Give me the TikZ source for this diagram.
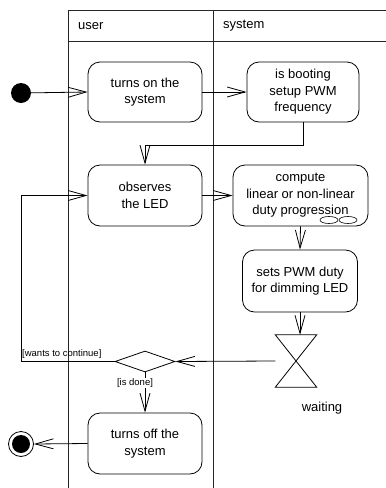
\documentclass[tikz,border=0pt]{standalone}
\usepackage{fontspec}
\setmainfont{Liberation Sans}
\usetikzlibrary{arrows.meta,shapes.geometric}
\tikzset{
  act/.style={draw, rounded corners=12pt, line width=0.8pt, align=center, inner sep=0pt,
    font=\fontsize{13}{16.5}\selectfont},
  arr/.style={-{Straight Barb[length=18pt,width=10pt]}, line width=0.8pt},
  lane/.style={line width=0.8pt, black!85},
  guard/.style={font=\fontsize{9.5}{11}\selectfont, inner sep=1pt},
  lbl/.style={font=\fontsize{13}{16}\selectfont, inner sep=0pt}
}
\begin{document}
\begin{tikzpicture}[x=1pt,y=-1pt]
\useasboundingbox (0,0) rectangle (386,488);
% swimlanes
\draw[lane] (68,488) -- (68,10) -- (386,10);
\draw[lane] (68,41) -- (386,41);
\draw[lane] (213,10) -- (213,488);
\node[lbl, anchor=west] (huser) at (78,26) {user};
\node[lbl, anchor=west] (hsys) at (223,26) {system};
% nodes
\node[circle, fill=black, minimum size=20pt, inner sep=0] (init) at (21,93) {};
\node[act, minimum width=114pt, minimum height=60pt] (on) at (145,92) {turns on the\\system};
\node[act, minimum width=112pt, minimum height=60pt] (boot) at (303,92) {is booting\\setup PWM\\frequency};
\node[act, minimum width=114pt, minimum height=61pt] (obs) at (145,195.5) {observes\\the LED};
\node[act, minimum width=135pt, minimum height=61pt] (comp) at (300.5,195.5) {compute\\linear or non-linear\\duty progression};
\draw[line width=0.6pt] (329,220) ellipse (9pt and 3.5pt);
\draw[line width=0.6pt] (348,220) ellipse (9pt and 3.5pt);
\node[act, minimum width=115pt, minimum height=62pt] (sets) at (300,281) {sets PWM duty\\for dimming LED};
\node[minimum width=41pt, minimum height=52pt, inner sep=0] (wait) at (296,361) {};
\draw[line width=0.8pt] (wait.north west) -- (wait.north east) -- (wait.south west) -- (wait.south east) -- cycle;
\node[lbl] (wlbl) at (322,408) {waiting};
\node[diamond, draw, line width=0.8pt, minimum width=60pt, minimum height=21pt, inner sep=0] (dec) at (145,361.5) {};
\node[act, minimum width=114pt, minimum height=61pt] (off) at (145,443.5) {turns off the\\system};
\node[circle, draw, line width=0.8pt, minimum size=25pt, inner sep=0] (fin) at (21,444) {};
\node[circle, fill=black, minimum size=18pt, inner sep=0] (finin) at (21,444) {};
% connectors
\draw[arr] (init) -- (on.west);
\draw[arr] (on.east) -- (boot.west |- on.east);
\coordinate (bend) at (303,145);
\draw[arr] (boot.south) -- (bend) -| (obs.north);
\draw[arr] (obs.east) -- (comp.west |- obs.east);
\draw[arr] (comp.south) -- (sets.north);
\draw[arr] (sets.south) -- (sets.south |- wait.north);
\draw[arr] (wait.west) -- (dec.east);
\coordinate (loop) at (21,361.5);
\draw[arr] (dec.west) -- (loop) |- (obs.west);
\node[guard, anchor=south west] (gcont) at (21,360) {[wants to continue]};
\draw[arr] (dec.south) -- (off.north);
\node[guard, fill=white] (gdone) at (135,383) {[is done]};
\draw[arr] (off.west) -- (fin.east);
\end{tikzpicture}
\end{document}
